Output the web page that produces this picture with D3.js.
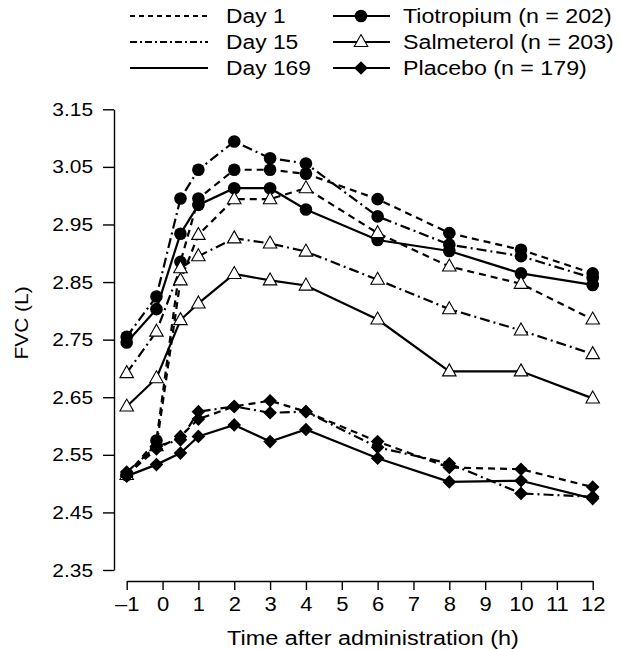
<!DOCTYPE html>
<html>
<head>
<meta charset="utf-8">
<script src="https://cdn.jsdelivr.net/npm/d3@7"></script>
<style>
  html, body { margin: 0; padding: 0; background: #fff; }
  svg { display: block; font-family: "Liberation Sans", Arial, Helvetica, sans-serif; }
</style>
</head>
<body>
<svg id="chart" width="620" height="649"></svg>
<script>
// ---- data ----
const times = [-1, -0.17, 0.5, 1, 2, 3, 4, 6, 8, 10, 12];
const xTicks = [-1, 0, 1, 2, 3, 4, 5, 6, 7, 8, 9, 10, 11, 12];
const yTicks = [2.35, 2.45, 2.55, 2.65, 2.75, 2.85, 2.95, 3.05, 3.15];

const days = ["Day 1", "Day 15", "Day 169"];
const treatments = ["Tiotropium (n = 202)", "Salmeterol (n = 203)", "Placebo (n = 179)"];

const tioDay1   = [2.515, 2.575, 2.885, 2.995, 3.045, 3.045, 3.038, 2.994, 2.935, 2.906, 2.865];
const tioDay15  = [2.755, 2.825, 2.995, 3.045, 3.094, 3.065, 3.056, 2.964, 2.915, 2.895, 2.857];
const tioDay169 = [2.745, 2.803, 2.934, 2.984, 3.013, 3.013, 2.976, 2.923, 2.904, 2.865, 2.845];

const salDay1   = [2.515, 2.565, 2.853, 2.932, 2.994, 2.994, 3.013, 2.935, 2.877, 2.847, 2.785];
const salDay15  = [2.692, 2.764, 2.874, 2.895, 2.926, 2.917, 2.903, 2.854, 2.803, 2.766, 2.725];
const salDay169 = [2.634, 2.683, 2.784, 2.813, 2.864, 2.853, 2.844, 2.785, 2.695, 2.695, 2.648];

const plaDay1   = [2.515, 2.560, 2.582, 2.612, 2.634, 2.644, 2.625, 2.573, 2.528, 2.525, 2.494];
const plaDay15  = [2.520, 2.565, 2.576, 2.625, 2.634, 2.623, 2.625, 2.563, 2.535, 2.483, 2.477];
const plaDay169 = [2.513, 2.533, 2.553, 2.582, 2.602, 2.573, 2.594, 2.544, 2.503, 2.505, 2.474];

// series table built from the arrays
const series = [
  { treat: 0, day: 0, values: tioDay1 },
  { treat: 0, day: 1, values: tioDay15 },
  { treat: 0, day: 2, values: tioDay169 },
  { treat: 1, day: 0, values: salDay1 },
  { treat: 1, day: 1, values: salDay15 },
  { treat: 1, day: 2, values: salDay169 },
  { treat: 2, day: 0, values: plaDay1 },
  { treat: 2, day: 1, values: plaDay15 },
  { treat: 2, day: 2, values: plaDay169 }
];

// ---- styles ----
const dashFor = ["7,5", "10,4,2,4", null];
const svg = d3.select("#chart");
const x = d3.scaleLinear().domain([-1, 12]).range([126.7, 592.7]);
const y = d3.scaleLinear().domain([2.35, 3.15]).range([570, 109.3]);

function stretch(sel, f) {
  sel.each(function () {
    const w = this.getComputedTextLength();
    d3.select(this).attr("textLength", w * f).attr("lengthAdjust", "spacingAndGlyphs");
  });
}

// ---- axes ----
const yAxis = svg.append("g").attr("transform", "translate(114,0)")
  .call(d3.axisLeft(y).tickValues(yTicks).tickFormat(d3.format(".2f")).tickSize(11).tickSizeOuter(0).tickPadding(10));
const xAxis = svg.append("g").attr("transform", "translate(0,581)")
  .call(d3.axisBottom(x).tickValues(xTicks).tickFormat(d => d < 0 ? "\u2013" + Math.abs(d) : String(d)).tickSize(9).tickSizeOuter(0).tickPadding(7));
[yAxis, xAxis].forEach(a => {
  a.selectAll("path, line").attr("stroke", "#000").attr("stroke-width", 1.4);
  a.selectAll("text").attr("fill", "#000")
    .style("font-family", "'Liberation Sans', Arial, sans-serif");
});
yAxis.selectAll("text").style("font-size", "19px");
xAxis.selectAll("text").style("font-size", "20px");
stretch(yAxis.selectAll("text"), 1.1);
stretch(xAxis.selectAll("text"), 1.1);

svg.append("text").attr("transform", "translate(28,323) rotate(-90)")
  .attr("text-anchor", "middle").style("font-size", "19px").text("FVC (L)")
  .call(s => stretch(s, 1.1));
svg.append("text").attr("x", 373).attr("y", 645)
  .attr("text-anchor", "middle").style("font-size", "20px").text("Time after administration (h)")
  .call(s => stretch(s, 1.17));

// ---- lines ----
const line = d3.line().x((d, i) => x(times[i])).y(d => y(d));
const plot = svg.append("g");
plot.selectAll("path.series").data(series).join("path")
  .attr("class", "series")
  .attr("d", d => line(d.values))
  .attr("fill", "none").attr("stroke", "#000").attr("stroke-width", 2.2)
  .attr("stroke-dasharray", d => dashFor[d.day]);

// ---- markers ----
function drawMarker(g, treat, cx, cy) {
  if (treat === 0) {
    g.append("circle").attr("cx", cx).attr("cy", cy).attr("r", 6.3).attr("fill", "#000");
  } else if (treat === 1) {
    const s = 13.5, h = 12;
    g.append("path")
      .attr("d", `M${cx},${cy - h * 0.62}L${cx + s / 2},${cy + h * 0.38}L${cx - s / 2},${cy + h * 0.38}Z`)
      .attr("fill", "#fff").attr("stroke", "#000").attr("stroke-width", 1.1);
  } else {
    const r = 6.8;
    g.append("path")
      .attr("d", `M${cx},${cy - r}L${cx + r},${cy}L${cx},${cy + r}L${cx - r},${cy}Z`)
      .attr("fill", "#000");
  }
}
const markerG = svg.append("g");
series.forEach(s => {
  s.values.forEach((v, i) => drawMarker(markerG, s.treat, x(times[i]), y(v)));
});

// ---- legend ----
const leg = svg.append("g");
const rowY = [16, 42, 68];
days.forEach((d, i) => {
  leg.append("line").attr("x1", 130).attr("x2", 208).attr("y1", rowY[i]).attr("y2", rowY[i])
    .attr("stroke", "#000").attr("stroke-width", 2).attr("stroke-dasharray", dashFor[i] ? (i === 0 ? "5,4" : "7,3,2,3") : null);
  leg.append("text").attr("x", 226).attr("y", rowY[i] + 7).style("font-size", "20px").text(d)
    .call(s => stretch(s, 1.14));
});
treatments.forEach((t, i) => {
  leg.append("line").attr("x1", 333).attr("x2", 390).attr("y1", rowY[i]).attr("y2", rowY[i])
    .attr("stroke", "#000").attr("stroke-width", 2);
  drawMarker(leg, i, 361, rowY[i]);
  leg.append("text").attr("x", 403).attr("y", rowY[i] + 7).style("font-size", "20px").text(t)
    .call(s => stretch(s, 1.16));
});
</script>
</body>
</html>
